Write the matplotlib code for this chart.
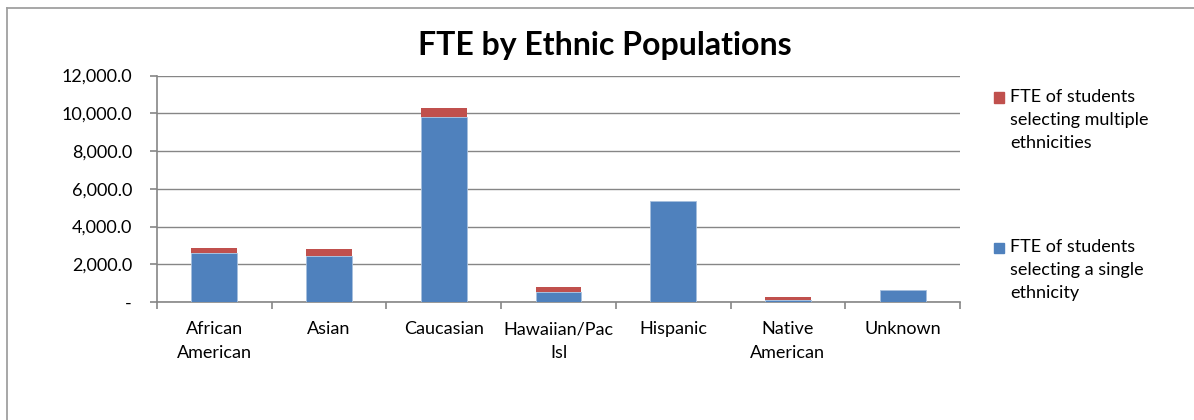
import matplotlib
matplotlib.use("Agg")
import matplotlib.pyplot as plt
from matplotlib.lines import Line2D
from matplotlib.patches import Rectangle
from matplotlib.ticker import FuncFormatter, MultipleLocator
import numpy as np

categories = ["African\nAmerican", "Asian", "Caucasian", "Hawaiian/Pac\nIsl",
              "Hispanic", "Native\nAmerican", "Unknown"]
single = [2610, 2450, 9800, 540, 5370, 125, 630]
multiple = [255, 360, 500, 235, 0, 145, 0]
series_names = ["FTE of students\nselecting multiple\nethnicities",
                "FTE of students\nselecting a single\nethnicity"]

BLUE = "#4F81BD"
RED = "#C0504D"
GRID = "#868686"
FONT = "Lato"
FS = 13

W, H = 1194, 420
fig = plt.figure(figsize=(W / 100, H / 100), dpi=100)
ax = fig.add_axes([157 / W, 1 - 302 / H, (960 - 157) / W, (302 - 75.5) / H])

x = np.arange(len(categories))
ax.bar(x, single, width=0.4, color=BLUE, edgecolor="#A7C0DE", linewidth=0.6, zorder=3)
ax.bar(x, multiple, width=0.4, bottom=single, color=RED, linewidth=0, zorder=3)

ax.set_xlim(-0.5, len(categories) - 0.5)
ax.set_ylim(0, 12000)
ax.yaxis.set_major_locator(MultipleLocator(2000))
ax.yaxis.set_major_formatter(FuncFormatter(lambda v, p: "-" if v == 0 else f"{v:,.1f}"))
ax.grid(axis="y", color=GRID, linewidth=1.0, zorder=0)

ax.set_xticks(x)
ax.set_xticklabels(categories, fontfamily=FONT, fontsize=FS, linespacing=1.6)
ax.set_xticks(np.arange(len(categories) + 1) - 0.5, minor=True)
ax.tick_params(axis="x", which="major", length=0, pad=14)
ax.tick_params(axis="x", which="minor", length=5, color=GRID, width=1.2)
ax.tick_params(axis="y", length=5, color=GRID, width=1.2, pad=13)
for lab in ax.get_yticklabels():
    lab.set_fontfamily(FONT)
    lab.set_fontsize(FS)

for s in ["top", "right"]:
    ax.spines[s].set_visible(False)
for s in ["left", "bottom"]:
    ax.spines[s].set_color(GRID)
    ax.spines[s].set_linewidth(1.2)

fig.text(605 / W, 1 - 45 / H, "FTE by Ethnic Populations", ha="center", va="center",
         fontfamily=FONT, fontsize=23, fontweight="bold")

# legend (manual, Excel-style: marker aligned with first line)
legend_items = [(RED, series_names[0], 97.5), (BLUE, series_names[1], 247.5)]
for color, label, ycenter in legend_items:
    fig.patches.append(Rectangle((994 / W, 1 - (ycenter + 5) / H), 10 / W, 10 / H,
                                 transform=fig.transFigure, color=color))
    fig.text(1010 / W, 1 - (ycenter - 9) / H, label, ha="left", va="top",
             fontfamily=FONT, fontsize=FS, linespacing=1.55)

# chart border (only top and left visible in the crop)
fig.add_artist(Line2D([6.5 / W, 1], [1 - 7.5 / H, 1 - 7.5 / H], transform=fig.transFigure,
                      color="#A0A0A0", linewidth=1.3))
fig.add_artist(Line2D([6.5 / W, 6.5 / W], [0, 1 - 7.5 / H], transform=fig.transFigure,
                      color="#A0A0A0", linewidth=1.3))

fig.savefig("out.png", dpi=100)
